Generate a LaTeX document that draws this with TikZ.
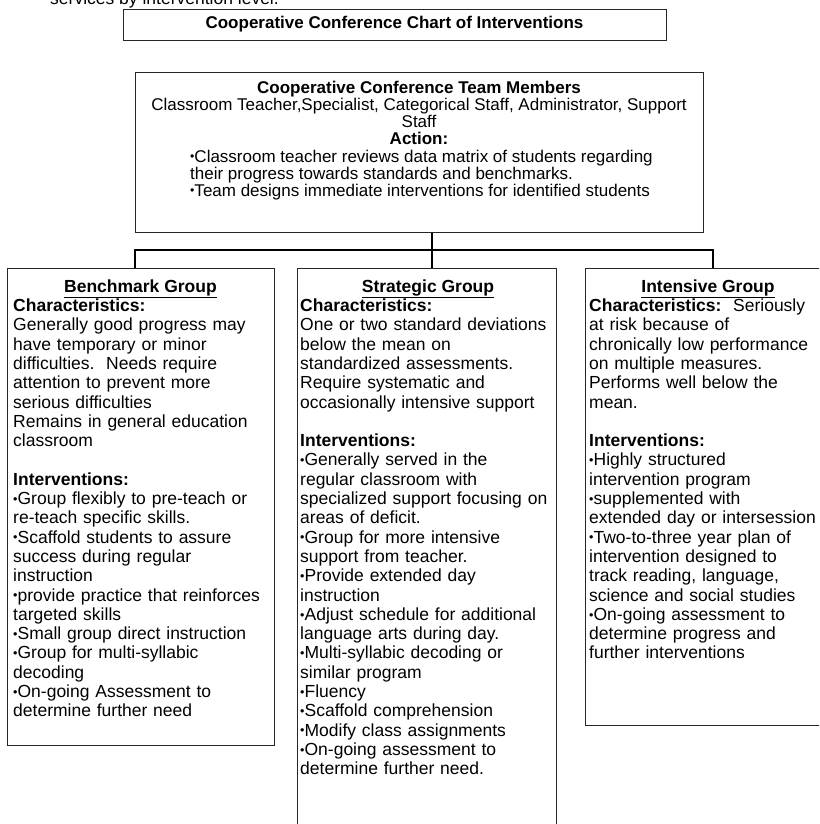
\documentclass[tikz,border=0pt]{standalone}
\usepackage{fontspec}
\setmainfont{Liberation Sans}
\usepackage{graphicx}
\newcommand{\bul}{\raisebox{1.3pt}{\scalebox{0.72}{\textbullet}}}
\begin{document}
\begin{tikzpicture}[x=1pt,y=-1pt,
  box/.style={draw=black!85, line width=0.9pt, inner sep=0pt, anchor=north west},
  conn/.style={line width=2.6pt, black},
  body/.style={inner sep=0pt, anchor=north west, align=left, text width=255pt,
               font=\fontsize{17.5}{19.3}\selectfont},
  grphead/.style={inner sep=0pt, anchor=base, font=\fontsize{17.5}{19.3}\selectfont\bfseries},
  teamtxt/.style={inner sep=0pt, font=\fontsize{17}{17}\selectfont},
]
\useasboundingbox (0,0) rectangle (819,824);
\clip (0,0) rectangle (819,824);

% partially visible lead-in line
\node[anchor=base west, inner sep=0pt, font=\fontsize{17.5}{19.3}\selectfont] (lead) at (50,5) {services by intervention level.};

% title
\node[draw=black!85, line width=0.9pt, minimum width=543pt, minimum height=31pt, inner sep=0pt,
      font=\fontsize{17}{17}\selectfont\bfseries] (title) at (394.5,24.5) {Cooperative Conference Chart of Interventions};

% team box
\node[box, minimum width=568pt, minimum height=160pt] (team) at (135,72) {};
\node[teamtxt, anchor=north, align=center] (teamhead) at (419,80) {\rule{0pt}{13pt}\textbf{Cooperative Conference Team Members}\\
Classroom Teacher,Specialist, Categorical Staff, Administrator, Support\\
Staff\\
\textbf{Action:}};
\node[teamtxt, anchor=north west, align=left] (teamlist) at (190,149) {\rule{0pt}{13pt}\bul Classroom teacher reviews data matrix of students regarding\\
their progress towards standards and benchmarks.\\
\bul Team designs immediate interventions for identified students};

% group boxes
\node[box, minimum width=267pt, minimum height=477pt] (bench) at (7,268) {};
\node[box, minimum width=259pt, minimum height=600pt] (strat) at (297,268) {};
\node[box, minimum width=256pt, minimum height=457pt] (inten) at (585,268) {};

% connectors
\coordinate (jl) at (135,250);
\coordinate (jc) at (432,250);
\coordinate (jr) at (713,250);
\draw[conn] (jc |- team.south) -- (jc |- strat.north);
\draw[conn] (jl |- bench.north) -- (jl) -- (jr) -- (jr |- inten.north);

% Benchmark
\node[grphead] (benchhead) at (140.5,292) {\underline{Benchmark Group}};
\node[body] (benchtxt) at (13,298.3) {\rule{0pt}{13pt}\textbf{Characteristics:}\\
Generally good progress may\\
have temporary or minor\\
difficulties.\ \ Needs require\\
attention to prevent more\\
serious difficulties\\
Remains in general education\\
classroom\\
\mbox{}\\
\textbf{Interventions:}\\
\bul Group flexibly to pre-teach or\\
re-teach specific skills.\\
\bul Scaffold students to assure\\
success during regular\\
instruction\\
\bul provide practice that reinforces\\
targeted skills\\
\bul Small group direct instruction\\
\bul Group for multi-syllabic\\
decoding\\
\bul On-going Assessment to\\
determine further need};

% Strategic
\node[grphead] (strathead) at (428,292) {\underline{Strategic Group}};
\node[body] (strattxt) at (300,298.3) {\rule{0pt}{13pt}\textbf{Characteristics:}\\
One or two standard deviations\\
below the mean on\\
standardized assessments.\\
Require systematic and\\
occasionally intensive support\\
\mbox{}\\
\textbf{Interventions:}\\
\bul Generally served in the\\
regular classroom with\\
specialized support focusing on\\
areas of deficit.\\
\bul Group for more intensive\\
support from teacher.\\
\bul Provide extended day\\
instruction\\
\bul Adjust schedule for additional\\
language arts during day.\\
\bul Multi-syllabic decoding or\\
similar program\\
\bul Fluency\\
\bul Scaffold comprehension\\
\bul Modify class assignments\\
\bul On-going assessment to\\
determine further need.};

% Intensive
\node[grphead] (intenhead) at (708,292) {\underline{Intensive Group}};
\node[body] (inentxt) at (589,298.3) {\rule{0pt}{13pt}\textbf{Characteristics:}\ \ Seriously\\
at risk because of\\
chronically low performance\\
on multiple measures.\\
Performs well below the\\
mean.\\
\mbox{}\\
\textbf{Interventions:}\\
\bul Highly structured\\
intervention program\\
\bul supplemented with\\
extended day or intersession\\
\bul Two-to-three year plan of\\
intervention designed to\\
track reading, language,\\
science and social studies\\
\bul On-going assessment to\\
determine progress and\\
further interventions};
\end{tikzpicture}
\end{document}
